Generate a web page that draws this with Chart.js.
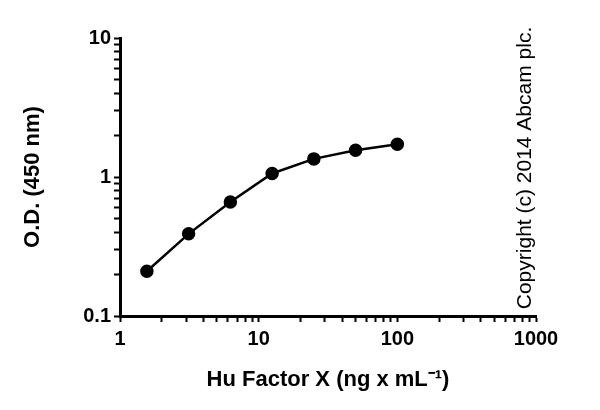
<!DOCTYPE html>
<html>
<head>
<meta charset="utf-8">
<script src="https://cdn.jsdelivr.net/npm/chart.js@4/dist/chart.umd.min.js"></script>
<style>
  html, body { margin: 0; padding: 0; background: #fff; }
  #wrap { width: 600px; height: 410px; }
</style>
</head>
<body>
<div id="wrap"><canvas id="odChart"></canvas></div>
<script>
// concentration (ng/mL) and optical density
var concentrations = [1.5625, 3.125, 6.25, 12.5, 25, 50, 100];
var odValues = [0.21, 0.39, 0.66, 1.06, 1.35, 1.56, 1.72];

// tick positions (log axes, decade labels only)
var xTickValues = [1, 2, 3, 4, 5, 6, 7, 8, 9, 10, 20, 30, 40, 50, 60, 70, 80, 90,
                   100, 200, 300, 400, 500, 600, 700, 800, 900, 1000];
var xTickLabels = [1, 10, 100, 1000];
var yTickValues = [0.1, 0.2, 0.3, 0.4, 0.5, 0.6, 0.7, 0.8, 0.9, 1, 2, 3, 4, 5, 6, 7, 8, 9, 10];
var yTickLabels = [0.1, 1, 10];

var xTitle = "Hu Factor X (ng x mL\u207B\u00B9)";
var yTitle = "O.D. (450 nm)";
var copyrightText = "Copyright (c) 2014 Abcam plc.";

var fontFamily = "'Liberation Sans', Arial, sans-serif";

function isLabel(list, v) {
    for (var i = 0; i < list.length; i++) {
        if (Math.abs(list[i] - v) < 1e-9) return true;
    }
    return false;
}

// copyright text rotated along the right side
var copyrightPlugin = {
    id: "copyright",
    afterDraw: function (chart) {
        var ctx = chart.ctx;
        ctx.save();
        ctx.translate(525, 168);
        ctx.rotate(-Math.PI / 2);
        ctx.font = "21px " + fontFamily;
        ctx.fillStyle = "#000";
        ctx.textAlign = "center";
        ctx.textBaseline = "middle";
        ctx.fillText(copyrightText, 0, 0);
        ctx.restore();
    }
};

var points = concentrations.map(function (c, i) {
    return { x: c, y: odValues[i] };
});

Chart.defaults.font.family = fontFamily;
Chart.defaults.color = "#000";

var ctx = document.getElementById("odChart").getContext("2d");
var odChart = new Chart(ctx, {
    type: "scatter",
    data: {
        datasets: [{
            data: points,
            showLine: true,
            borderColor: "#000",
            borderWidth: 2.5,
            backgroundColor: "#000",
            pointRadius: 5.5,
            pointHoverRadius: 5.5,
            tension: 0
        }]
    },
    options: {
        responsive: true,
        maintainAspectRatio: false,
        animation: false,
        layout: { padding: { top: 38, right: 64, bottom: 0, left: 0 } },
        plugins: {
            legend: { display: false },
            tooltip: { enabled: false }
        },
        scales: {
            x: {
                type: "logarithmic",
                min: 1,
                max: 1000,
                afterBuildTicks: function (scale) {
                    scale.ticks = xTickValues.map(function (v) { return { value: v }; });
                },
                afterFit: function (scale) { scale.height = 94; },
                ticks: {
                    autoSkip: false,
                    maxRotation: 0,
                    padding: 5,
                    font: { size: 20, weight: "bold" },
                    callback: function (v) { return isLabel(xTickLabels, v) ? String(v) : ""; }
                },
                grid: {
                    drawOnChartArea: false,
                    drawTicks: true,
                    tickLength: 6,
                    tickColor: "#000",
                    tickWidth: 2
                },
                border: { display: true, color: "#000", width: 3 },
                title: {
                    display: true,
                    text: xTitle,
                    padding: 17,
                    font: { size: 22, weight: "bold" }
                }
            },
            y: {
                type: "logarithmic",
                min: 0.1,
                max: 10,
                afterBuildTicks: function (scale) {
                    scale.ticks = yTickValues.map(function (v) { return { value: v }; });
                },
                afterFit: function (scale) { scale.width = 120; },
                ticks: {
                    autoSkip: false,
                    padding: 3,
                    font: { size: 20, weight: "bold" },
                    callback: function (v) { return isLabel(yTickLabels, v) ? String(v) : ""; }
                },
                grid: {
                    drawOnChartArea: false,
                    drawTicks: true,
                    tickLength: 6,
                    tickColor: "#000",
                    tickWidth: 2
                },
                border: { display: true, color: "#000", width: 3 },
                title: {
                    display: true,
                    text: yTitle,
                    padding: 20,
                    font: { size: 22, weight: "bold" }
                }
            }
        }
    },
    plugins: [copyrightPlugin]
});
</script>
</body>
</html>
